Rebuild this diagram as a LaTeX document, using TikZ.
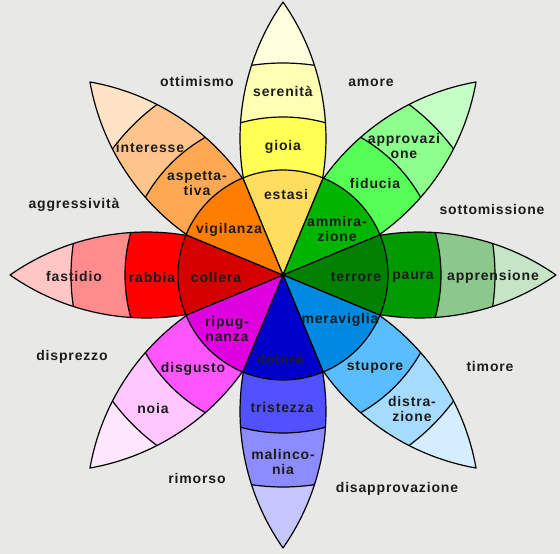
\documentclass[tikz,border=0pt]{standalone}
\usepackage{fontspec}
\setmainfont{Liberation Sans}
\newfontfamily\wheelfont[LetterSpace=6]{Liberation Sans}
\usepackage{xcolor}
\usepackage{tikz}

\definecolor{bgcol}{HTML}{E8E8E6}
\definecolor{txtcol}{HTML}{1C1C1C}
% yellow petal
\definecolor{estasiC}{HTML}{FFDD5E}
\definecolor{gioiaC}{HTML}{FFFF55}
\definecolor{serenC}{HTML}{FFFFB4}
\definecolor{yelTip}{HTML}{FFFFDE}
% light green petal
\definecolor{ammirC}{HTML}{00B400}
\definecolor{fiduC}{HTML}{55FF55}
\definecolor{approvC}{HTML}{8CFF8C}
\definecolor{grnTip}{HTML}{C6FFC6}
% dark green petal
\definecolor{terrC}{HTML}{007F00}
\definecolor{pauraC}{HTML}{009900}
\definecolor{apprC}{HTML}{8CC88C}
\definecolor{dgrTip}{HTML}{C6E4C6}
% light blue petal
\definecolor{meravC}{HTML}{0089E0}
\definecolor{stupC}{HTML}{59BDFF}
\definecolor{distrC}{HTML}{A5DBFF}
\definecolor{lblTip}{HTML}{D5EEFF}
% blue petal
\definecolor{dolC}{HTML}{0000C8}
\definecolor{tristC}{HTML}{5151FF}
\definecolor{malC}{HTML}{8C8CFF}
\definecolor{bluTip}{HTML}{C6C6FF}
% violet petal
\definecolor{ripugC}{HTML}{DE00DE}
\definecolor{disgC}{HTML}{FF55FF}
\definecolor{noiaC}{HTML}{FFC6FF}
\definecolor{vioTip}{HTML}{FFE6FF}
% red petal
\definecolor{collC}{HTML}{D40000}
\definecolor{rabbC}{HTML}{FF0000}
\definecolor{fastC}{HTML}{FF8C8C}
\definecolor{redTip}{HTML}{FFC6C6}
% orange petal
\definecolor{vigC}{HTML}{FF7D00}
\definecolor{aspC}{HTML}{FFA854}
\definecolor{intC}{HTML}{FFC48C}
\definecolor{orgTip}{HTML}{FFE3C6}

\begin{document}
\begin{tikzpicture}[
    x=1pt, y=1pt,
    edge/.style={draw=black, line width=1.2pt, line join=round},
    lab/.style={text=txtcol, font=\wheelfont\fontsize{14}{15}\selectfont\bfseries, align=center, inner sep=0pt},
    dyad/.style={lab}
]

% Background
\fill[bgcol] (-283,-279) rectangle (277,275);
\useasboundingbox (-283,-279) rectangle (277,275);

% Petals
\foreach \ang/\cb/\cc/\cd in {90/gioiaC/serenC/yelTip, 45/fiduC/approvC/grnTip,
    0/pauraC/apprC/dgrTip, -45/stupC/distrC/lblTip, -90/tristC/malC/bluTip,
    -135/disgC/noiaC/vioTip, 180/rabbC/fastC/redTip, 135/aspC/intC/orgTip} {
  \begin{scope}[rotate=\ang]
    \begin{scope}
      \clip (0,0) arc[start angle=124.96, end angle=55.04, radius=238.2]
        arc[start angle=-55.04, end angle=-124.96, radius=238.2] -- cycle;
      \fill[\cd] (0,0) circle (280);
      \fill[\cc] (0,0) circle (212);
      \fill[\cb] (0,0) circle (158);
      \draw[edge] (0,0) circle (212) (0,0) circle (158);
    \end{scope}
    \draw[edge] (0,0) arc[start angle=124.96, end angle=55.04, radius=238.2]
      arc[start angle=-55.04, end angle=-124.96, radius=238.2] -- cycle;
  \end{scope}
}

% Inner wheel
\foreach \ang/\ca in {90/estasiC, 45/ammirC, 0/terrC, -45/meravC,
    -90/dolC, -135/ripugC, 180/collC, 135/vigC} {
  \filldraw[fill=\ca, edge] (0,0) -- ({\ang-22.5}:105)
    arc[start angle={\ang-22.5}, end angle={\ang+22.5}, radius=105] -- cycle;
}

% Primary emotions
\node[lab] (estasi) at (3,81) {estasi};
\node[lab] (gioia) at (0,128) {gioia};
\node[lab] (serenita) at (0,184) {serenità};
\node[lab] (ammirazione) at (54,46) {ammira-\\zione};
\node[lab] (fiducia) at (92,92) {fiducia};
\node[lab] (approvazione) at (121,129) {approvazi\\one};
\node[lab] (terrore) at (73,-2) {terrore};
\node[lab] (paura) at (130,-2) {paura};
\node[lab] (apprensione) at (210,-2) {apprensione};
\node[lab] (meraviglia) at (57,-45) {meraviglia};
\node[lab] (stupore) at (92,-92) {stupore};
\node[lab] (distrazione) at (129,-134) {distra-\\zione};
\node[lab] (dolore) at (-3,-84) {dolore};
\node[lab] (tristezza) at (-1,-132) {tristezza};
\node[lab] (malinconia) at (0,-187) {malinco-\\nia};
\node[lab] (ripugnanza) at (-56,-54) {ripug-\\nanza};
\node[lab] (disgusto) at (-90,-94) {disgusto};
\node[lab] (noia) at (-130,-133) {noia};
\node[lab] (collera) at (-67,-2) {collera};
\node[lab] (rabbia) at (-131,-2) {rabbia};
\node[lab] (fastidio) at (-209,-1) {fastidio};
\node[lab] (vigilanza) at (-54,45) {vigilanza};
\node[lab] (aspettativa) at (-86,91) {aspetta-\\tiva};
\node[lab] (interesse) at (-133,128) {interesse};

% Dyads
\node[dyad] (ottimismo) at (-86,194) {ottimismo};
\node[dyad] (amore) at (88,192) {amore};
\node[dyad] (sottomissione) at (209,66) {sottomissione};
\node[dyad] (timore) at (207,-91) {timore};
\node[dyad] (disapprovazione) at (114,-214) {disapprovazione};
\node[dyad] (rimorso) at (-86,-203) {rimorso};
\node[dyad] (disprezzo) at (-211,-82) {disprezzo};
\node[dyad] (aggressivita) at (-209,70) {aggressività};

\end{tikzpicture}
\end{document}
